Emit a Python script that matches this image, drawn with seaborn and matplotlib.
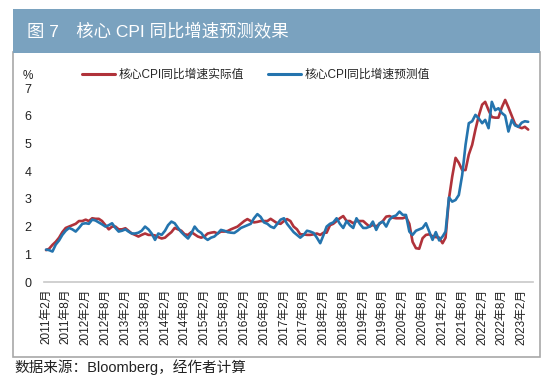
import pandas as pd
import matplotlib.pyplot as plt
import matplotlib.patches as mpatches
import seaborn as sns

# Monthly data, 2011-02 .. 2023-04
start_month = '2011-02-01'
actual = [1.15, 1.2, 1.34, 1.45, 1.6, 1.8, 1.95, 2.0, 2.05, 2.1, 2.2, 2.2,
          2.25, 2.2, 2.3, 2.28, 2.28, 2.2, 2.05, 1.9, 2.0, 2.0, 1.9, 1.9,
          1.94, 1.85, 1.75, 1.7, 1.64, 1.7, 1.75, 1.7, 1.7, 1.68, 1.62, 1.57,
          1.6, 1.7, 1.8, 1.95, 1.9, 1.85, 1.72, 1.7, 1.8, 1.72, 1.64, 1.6,
          1.65, 1.75, 1.78, 1.8, 1.75, 1.82, 1.82, 1.84, 1.9, 1.95, 2.0, 2.1,
          2.2, 2.27, 2.2, 2.15, 2.17, 2.2, 2.2, 2.2, 2.28, 2.2, 2.12, 2.1,
          2.2, 2.27, 2.2, 2.0, 1.9, 1.72, 1.72, 1.7, 1.7, 1.72, 1.75, 1.7,
          1.78, 1.78, 2.05, 2.1, 2.2, 2.3, 2.38, 2.2, 2.2, 2.12, 2.2, 2.2,
          2.2, 2.1, 2.0, 2.06, 2.0, 2.1, 2.2, 2.36, 2.38, 2.32, 2.3, 2.3,
          2.3, 2.35, 2.1, 1.45, 1.22, 1.2, 1.58, 1.7, 1.72, 1.65, 1.62, 1.6,
          1.4, 1.6, 3.0, 3.8, 4.48, 4.3, 4.04, 4.04, 4.6, 4.95, 5.5, 6.0,
          6.4, 6.5, 6.2, 5.95, 5.93, 5.93, 6.3, 6.57, 6.3, 6.0, 5.7, 5.6,
          5.55, 5.6, 5.5]
predicted = [1.17, 1.15, 1.1, 1.35, 1.5, 1.7, 1.85, 1.95, 1.9, 1.82, 1.95, 2.1,
             2.12, 2.1, 2.25, 2.22, 2.15, 2.08, 2.0, 2.05, 2.12, 1.95, 1.82, 1.85,
             1.9, 1.82, 1.75, 1.75, 1.78, 1.85, 2.0, 1.9, 1.75, 1.52, 1.75, 1.7,
             1.85, 2.05, 2.18, 2.12, 1.95, 1.8, 1.68, 1.57, 1.75, 2.0, 1.85, 1.77,
             1.6, 1.52, 1.6, 1.64, 1.75, 1.88, 1.85, 1.8, 1.78, 1.77, 1.85, 1.95,
             2.0, 2.05, 2.1, 2.3, 2.45, 2.35, 2.15, 2.1, 2.0, 1.95, 2.1, 2.25,
             2.3, 2.1, 1.95, 1.8, 1.7, 1.6, 1.7, 1.85, 1.82, 1.77, 1.6, 1.4,
             1.7, 2.0, 2.1, 2.15, 2.3, 2.1, 1.95, 2.2, 2.05, 1.95, 2.3, 2.1,
             1.95, 1.95, 2.0, 2.18, 1.88, 2.12, 2.18, 2.0, 2.25, 2.36, 2.4, 2.54,
             2.42, 2.42, 1.82, 1.7, 1.85, 1.9, 1.95, 2.12, 1.82, 1.52, 1.8, 1.5,
             1.64, 1.82, 3.05, 2.9, 2.96, 3.14, 3.86, 4.95, 5.73, 5.8, 6.03, 5.9,
             5.73, 5.85, 5.55, 6.5, 6.2, 6.27, 6.1, 6.0, 5.43, 5.85, 5.65, 5.6,
             5.75, 5.8, 5.78]

tick_labels = ['2011年2月', '2011年8月', '2012年2月', '2012年8月', '2013年2月',
               '2013年8月', '2014年2月', '2014年8月', '2015年2月', '2015年8月',
               '2016年2月', '2016年8月', '2017年2月', '2017年8月', '2018年2月',
               '2018年8月', '2019年2月', '2019年8月', '2020年2月', '2020年8月',
               '2021年2月', '2021年8月', '2022年2月', '2022年8月', '2023年2月']

series_names = ['核心CPI同比增速实际值', '核心CPI同比增速预测值']
colors = ['#B0323A', '#2474AE']

dates = pd.date_range(start_month, periods=len(actual), freq='MS')
df = pd.DataFrame({'date': list(dates) * 2,
                   'value': actual + predicted,
                   'series': [series_names[0]] * len(actual) + [series_names[1]] * len(predicted)})

sns.set_theme(style='white')
plt.rcParams['font.family'] = ['Liberation Sans', 'Noto Sans CJK SC']

fig = plt.figure(figsize=(5.5, 3.87), dpi=100)
ax = fig.add_axes([0.08, 0.2713, 0.889, 0.5013])

sns.lineplot(data=df, x='date', y='value', hue='series', palette=colors,
             linewidth=1.9, ax=ax, legend=False)

# frame and title bar
fig.patches.append(mpatches.Rectangle((13 / 550, 1 - 357 / 387), 527 / 550, 305 / 387,
                                      transform=fig.transFigure, fill=False,
                                      edgecolor='#A8A8A8', linewidth=1.2, zorder=0))
fig.patches.append(mpatches.Rectangle((13 / 550, 1 - 53 / 387), 527 / 550, 44 / 387,
                                      transform=fig.transFigure, facecolor='#7AA2BF',
                                      edgecolor='none', zorder=1))
fig.text(27 / 550, 1 - 31 / 387, '图 7　核心 CPI 同比增速预测效果', color='white',
         fontsize=12.5, va='center', ha='left')
fig.text(14 / 550, 1 - 367 / 387, '数据来源：Bloomberg，经作者计算', color='#222222',
         fontsize=10.5, va='center', ha='left')

ax.set_ylim(0, 7)
ax.set_yticks(range(0, 8))
ax.set_xlim(pd.Timestamp('2011-01-13'), pd.Timestamp('2023-05-15'))
ticks = pd.date_range('2011-02-01', '2023-02-01', freq='6MS')
ax.set_xticks(ticks)
ax.set_xticklabels(tick_labels, rotation=90, fontsize=8.5, color='#222222')
ax.tick_params(axis='y', labelsize=9, colors='#222222', length=0, pad=9)
ax.tick_params(axis='x', direction='inout', length=4, width=0.8, color='#BBBBBB', pad=3)
ax.set_xlabel('')
ax.set_ylabel('')
for s in ['left', 'right', 'top']:
    ax.spines[s].set_visible(False)
ax.spines['bottom'].set_color('#C8C8C8')
ax.spines['bottom'].set_linewidth(1.2)
ax.text(-0.033, 1.03, '%', transform=ax.transAxes, fontsize=8.5, color='#222222',
        ha='center', va='bottom')

handles = [plt.Line2D([], [], color=c, linewidth=2.2) for c in colors]
fig.legend(handles, series_names, loc='center', bbox_to_anchor=(0.465, 0.806),
           ncol=2, frameon=False, fontsize=8.5, handlelength=2.8,
           handletextpad=0.3, columnspacing=2.0)

fig.savefig('out.png', dpi=100)
